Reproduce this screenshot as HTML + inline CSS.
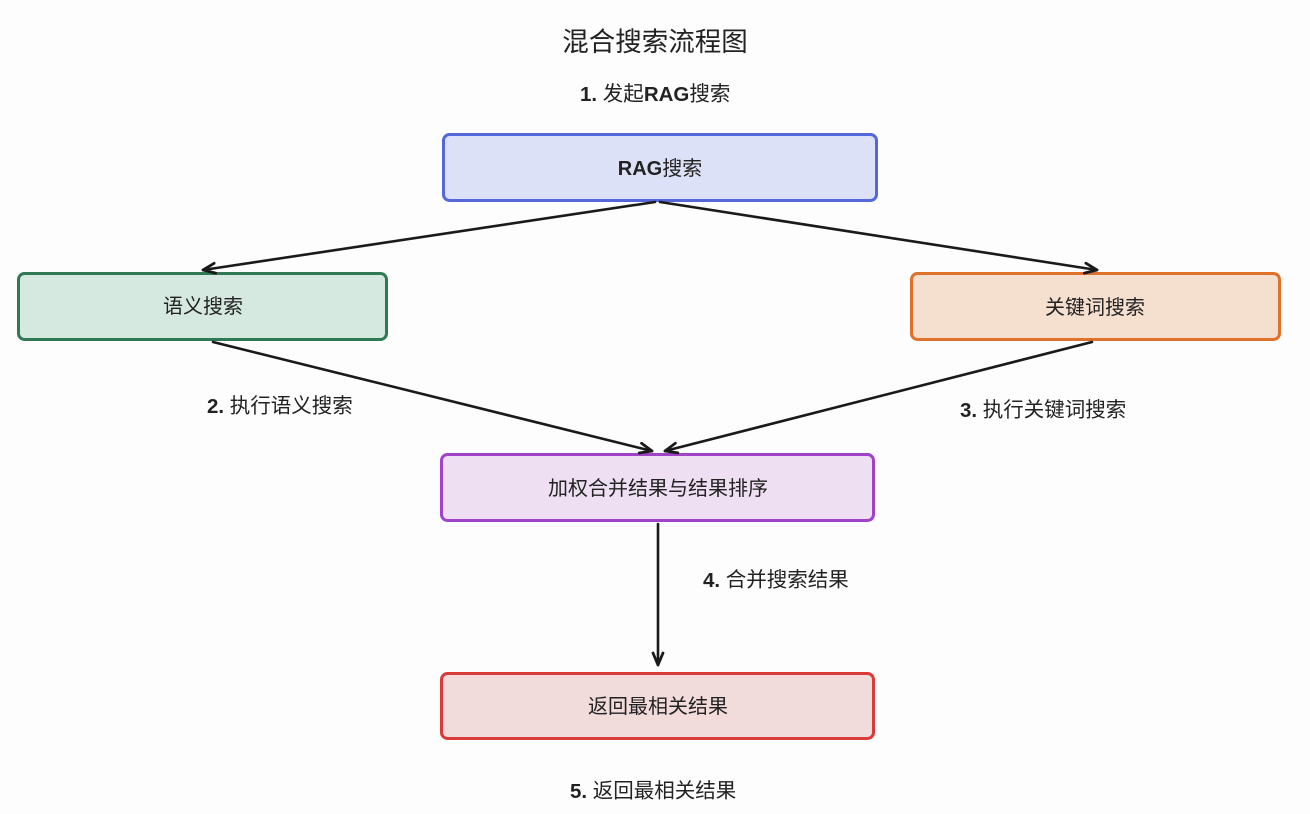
<!DOCTYPE html>
<html>
<head>
<meta charset="utf-8">
<style>
html,body{margin:0;padding:0;background:#fdfdfd;}
body{width:1310px;height:814px;overflow:hidden;}
svg{display:block;}
text{font-family:"Liberation Sans","Noto Sans CJK SC",sans-serif;fill:#222;}
.t{font-size:20px;}
.lbl{font-size:20.5px;}
.num{font-weight:bold;}
</style>
</head>
<body>
<svg width="1310" height="814" viewBox="0 0 1310 814" xmlns="http://www.w3.org/2000/svg">
<defs>
<marker id="ah" viewBox="0 0 15 13" refX="13.5" refY="6.5" markerWidth="15" markerHeight="13" markerUnits="userSpaceOnUse" orient="auto">
<path d="M1.5,1.5 L13.5,6.5 L1.5,11.5" fill="none" stroke="#1a1a1a" stroke-width="2.8" stroke-linejoin="round" stroke-linecap="round"/>
</marker>
</defs>
<rect width="1310" height="814" fill="#fdfdfd"/>

<!-- title -->
<text x="655" y="42" text-anchor="middle" dominant-baseline="central" style="font-size:26.5px;font-weight:400;">混合搜索流程图</text>

<!-- step 1 label -->
<text x="580" y="94" dominant-baseline="central" class="lbl"><tspan class="num">1.</tspan> 发起<tspan class="num">RAG</tspan>搜索</text>

<!-- boxes -->
<rect x="443.5" y="134.5" width="433" height="66" rx="6" fill="#dde1f7" stroke="#5468dc" stroke-width="3"/>
<text x="660" y="169" text-anchor="middle" dominant-baseline="central" class="t"><tspan class="num">RAG</tspan>搜索</text>

<rect x="18.5" y="273.5" width="368" height="66" rx="6" fill="#d6e9e1" stroke="#2f7a55" stroke-width="3"/>
<text x="203" y="307" text-anchor="middle" dominant-baseline="central" class="t">语义搜索</text>

<rect x="911.5" y="273.5" width="368" height="66" rx="6" fill="#f5dfcf" stroke="#e0712b" stroke-width="3"/>
<text x="1095" y="308" text-anchor="middle" dominant-baseline="central" class="t">关键词搜索</text>

<rect x="441.5" y="454.5" width="432" height="66" rx="6" fill="#eedff2" stroke="#a043c9" stroke-width="3"/>
<text x="658" y="489" text-anchor="middle" dominant-baseline="central" class="t">加权合并结果与结果排序</text>

<rect x="441.5" y="673.5" width="432" height="65" rx="6" fill="#f2dbdb" stroke="#d93b3b" stroke-width="3"/>
<text x="658" y="707" text-anchor="middle" dominant-baseline="central" class="t">返回最相关结果</text>

<!-- connectors -->
<g stroke="#1a1a1a" stroke-width="2.6" stroke-linecap="round" fill="none">
<line x1="655" y1="202" x2="203" y2="270" marker-end="url(#ah)"/>
<line x1="660" y1="202" x2="1097" y2="270" marker-end="url(#ah)"/>
<line x1="213" y1="342" x2="652" y2="451" marker-end="url(#ah)"/>
<line x1="1092" y1="342" x2="665" y2="451" marker-end="url(#ah)"/>
<line x1="658" y1="524" x2="658" y2="665" marker-end="url(#ah)"/>
</g>

<!-- step labels -->
<text x="207" y="406" dominant-baseline="central" class="lbl"><tspan class="num">2.</tspan> 执行语义搜索</text>
<text x="960" y="410" dominant-baseline="central" class="lbl"><tspan class="num">3.</tspan> 执行关键词搜索</text>
<text x="703" y="580" dominant-baseline="central" class="lbl"><tspan class="num">4.</tspan> 合并搜索结果</text>
<text x="570" y="791" dominant-baseline="central" class="lbl"><tspan class="num">5.</tspan> 返回最相关结果</text>
</svg>
</body>
</html>
